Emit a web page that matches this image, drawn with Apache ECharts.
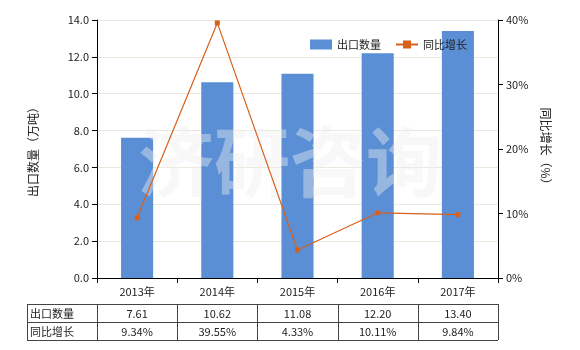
<!DOCTYPE html>
<html><head><meta charset="utf-8">
<script src="https://cdn.jsdelivr.net/npm/echarts@6/dist/echarts.min.js"></script>
<style>html,body{margin:0;padding:0;background:#fff}#c{width:580px;height:350px}</style>
</head><body><div id="c"></div>
<script>
var categories = ['2013年','2014年','2015年','2016年','2017年'];
var exportQty = [7.61, 10.62, 11.08, 12.20, 13.40];
var growth = [9.34, 39.55, 4.33, 10.11, 9.84];
var rowNames = ['出口数量','同比增长'];
var qtyLabels = ['7.61','10.62','11.08','12.20','13.40'];
var growthLabels = ['9.34%','39.55%','4.33%','10.11%','9.84%'];

var FONT = '"Noto Sans CJK SC","Noto Sans",sans-serif';
var chart = echarts.init(document.getElementById('c'));
var grid = {left:97, right:82, top:20, bottom:72};
chart.setOption({
  animation:false,
  textStyle:{fontFamily:FONT},
  legend:{top:34, right:108, itemWidth:22, itemHeight:10, itemGap:14,
    textStyle:{fontSize:11,color:'#222',fontFamily:FONT},
    data:[{name:'出口数量',icon:'rect'},{name:'同比增长',lineStyle:{width:2}}]},
  grid:grid,
  xAxis:{type:'category', data:categories,
    axisLine:{lineStyle:{color:'#000'}},
    axisTick:{show:true, alignWithLabel:false, lineStyle:{color:'#000'}},
    axisLabel:{color:'#222',fontSize:11,margin:8,fontFamily:FONT}},
  yAxis:[
    {type:'value',min:0,max:14,interval:2,name:'出口数量（万吨）',nameLocation:'middle',nameGap:58,nameRotate:90,
     nameTextStyle:{fontSize:12,color:'#222',fontFamily:FONT},
     axisLine:{show:true,lineStyle:{color:'#000'}},axisTick:{show:true,lineStyle:{color:'#000'}},
     axisLabel:{color:'#222',fontSize:11,formatter:function(v){return v.toFixed(1);}},
     splitLine:{lineStyle:{color:'#ebe7dd'}}},
    {type:'value',min:0,max:40,interval:10,name:'同比增长（%）',nameLocation:'middle',nameGap:40,nameRotate:-90,
     nameTextStyle:{fontSize:12,color:'#222',fontFamily:FONT},
     axisLine:{show:true,lineStyle:{color:'#000'}},axisTick:{show:true,lineStyle:{color:'#000'}},
     axisLabel:{color:'#222',fontSize:11,formatter:'{value}%'},
     splitLine:{show:false}}
  ],
  series:[
    {name:'出口数量',type:'bar',data:exportQty,barWidth:'40%',z:2,itemStyle:{color:'#5a8fd6'}},
    {name:'同比增长',type:'line',yAxisIndex:1,data:growth,symbol:'rect',symbolSize:5,z:10,
     lineStyle:{color:'#d9601a',width:1.2},itemStyle:{color:'#d9601a'}}
  ]
});

// watermark + table
var els = [];
els.push({type:'text', left:'center', top:124, z:5, silent:true,
  style:{text:'济研咨询', font:'bold 76px '+FONT, fill:'rgba(238,238,238,0.42)'}});
var x0 = 27, xl = chart.convertToPixel({xAxisIndex:0}, categories[0]);
var catW = chart.convertToPixel({xAxisIndex:0}, categories[1]) - xl;
var xStart = xl - catW/2, xEnd = xStart + catW*categories.length;
var yTop = 304, rowH = 18;
var lineStyle = {stroke:'#444', lineWidth:1};
var rows = [qtyLabels, growthLabels];
for (var r=0;r<=2;r++){
  els.push({type:'line', shape:{x1:x0,y1:yTop+r*rowH+0.5,x2:xEnd,y2:yTop+r*rowH+0.5}, style:lineStyle});
}
els.push({type:'line', shape:{x1:x0+0.5,y1:yTop,x2:x0+0.5,y2:yTop+2*rowH}, style:lineStyle});
for (var c=0;c<=categories.length;c++){
  var xx = Math.round(xStart + c*catW)+0.5;
  els.push({type:'line', shape:{x1:xx,y1:yTop,x2:xx,y2:yTop+2*rowH}, style:lineStyle});
}
for (var r=0;r<2;r++){
  var cy = yTop + r*rowH + rowH/2 + 0.5;
  els.push({type:'text', x:x0+3, y:cy, style:{text:rowNames[r], font:'11px '+FONT, fill:'#222', textAlign:'left', textVerticalAlign:'middle'}});
  for (var c=0;c<categories.length;c++){
    els.push({type:'text', x:xStart + c*catW + catW/2, y:cy, style:{text:rows[r][c], font:'11px '+FONT, fill:'#222', textAlign:'center', textVerticalAlign:'middle'}});
  }
}
chart.setOption({graphic:{elements:els}});
</script></body></html>
